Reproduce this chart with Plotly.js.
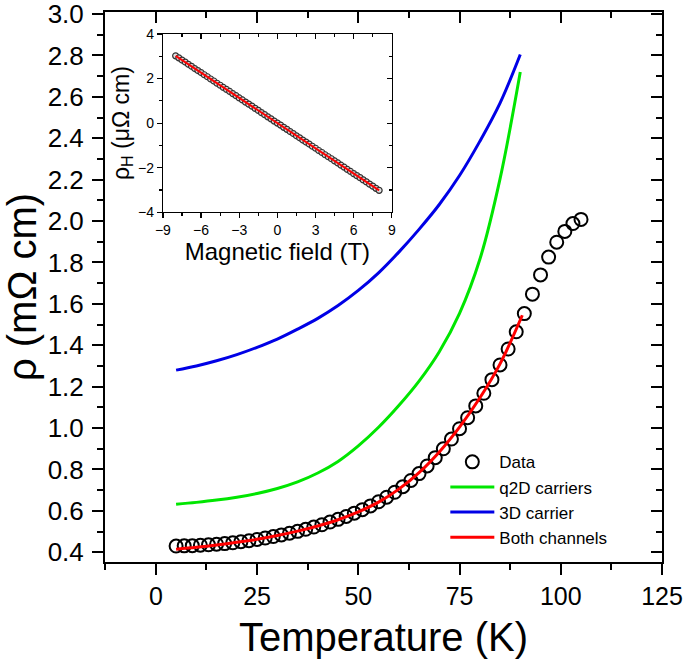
<!DOCTYPE html>
<html>
<head>
<meta charset="utf-8">
<script src="https://cdn.plot.ly/plotly-3.0.1.min.js"></script>
<style>html,body{margin:0;padding:0;background:#fff;}#chart{width:685px;height:669px;}</style>
</head>
<body>
<div id="chart"></div>
<script>
// Main panel: measured resistivity (open circles)
const tempData = [5,7,9,11,13,15,17,19,21,23,25,27,29,31,33,35,37,39,41,43,45,47,49,51,53,55,57,59,61,63,65,67,69,71,73,75,77,79,81,83,85,87,89,91,93,95,97,99,101,103,105];
const rhoData = [0.430,0.431,0.432,0.434,0.436,0.439,0.442,0.446,0.451,0.456,0.462,0.469,0.476,0.484,0.492,0.501,0.511,0.522,0.533,0.546,0.559,0.573,0.589,0.606,0.624,0.644,0.666,0.690,0.717,0.747,0.780,0.817,0.857,0.900,0.947,0.997,1.050,1.107,1.168,1.234,1.305,1.382,1.465,1.553,1.647,1.740,1.826,1.898,1.950,1.988,2.008];

// Model curves
const tQ2D = [5,10,15,20,25,30,35,40,45,50,55,60,65,70,75,80,85,90];
const rhoQ2D = [0.632,0.641,0.652,0.666,0.684,0.708,0.740,0.783,0.839,0.914,1.004,1.109,1.227,1.369,1.554,1.814,2.204,2.720];

const t3D = [5,10,15,20,25,30,35,40,45,50,55,60,65,70,75,80,85,90];
const rho3D = [1.280,1.300,1.325,1.355,1.390,1.430,1.478,1.530,1.592,1.665,1.750,1.850,1.960,2.080,2.220,2.385,2.570,2.805];

const tBoth = [5,10,15,20,25,30,35,40,45,50,55,60,65,70,75,80,85,90.5];
const rhoBoth = [0.415,0.424,0.435,0.448,0.463,0.481,0.502,0.527,0.557,0.595,0.642,0.705,0.785,0.885,1.005,1.145,1.310,1.545];

// Inset: Hall resistivity vs magnetic field
const fieldHall = [-8,-7.75,-7.5,-7.25,-7,-6.75,-6.5,-6.25,-6,-5.75,-5.5,-5.25,-5,-4.75,-4.5,-4.25,-4,-3.75,-3.5,-3.25,-3,-2.75,-2.5,-2.25,-2,-1.75,-1.5,-1.25,-1,-0.75,-0.5,-0.25,0,0.25,0.5,0.75,1,1.25,1.5,1.75,2,2.25,2.5,2.75,3,3.25,3.5,3.75,4,4.25,4.5,4.75,5,5.25,5.5,5.75,6,6.25,6.5,6.75,7,7.25,7.5,7.75,8];
const rhoHall = [3.02,2.93,2.83,2.74,2.64,2.55,2.45,2.36,2.27,2.17,2.08,1.98,1.89,1.79,1.70,1.60,1.51,1.42,1.32,1.23,1.13,1.04,0.94,0.85,0.76,0.66,0.57,0.47,0.38,0.28,0.19,0.09,0.00,-0.09,-0.19,-0.28,-0.38,-0.47,-0.57,-0.66,-0.76,-0.85,-0.94,-1.04,-1.13,-1.23,-1.32,-1.42,-1.51,-1.60,-1.70,-1.79,-1.89,-1.98,-2.08,-2.17,-2.27,-2.36,-2.45,-2.55,-2.64,-2.74,-2.83,-2.93,-3.02];
const fieldFit = [-8, 8];
const rhoFit = [3.02, -3.02];

const FONT = 'Arial, "Liberation Sans", sans-serif';

const traces = [
  {x: tempData, y: rhoData, type: 'scatter', mode: 'markers', name: 'Data',
   marker: {symbol: 'circle-open', size: 13, color: '#000', line: {width: 2, color: '#000'}}},
  {x: tQ2D, y: rhoQ2D, type: 'scatter', mode: 'lines', name: 'q2D carriers',
   line: {color: '#00e600', width: 3, shape: 'spline'}},
  {x: t3D, y: rho3D, type: 'scatter', mode: 'lines', name: '3D carrier',
   line: {color: '#0000e6', width: 3, shape: 'spline'}},
  // drawn on the mirrored (top/right) axes, which share the main ranges
  {x: tBoth, y: rhoBoth, xaxis: 'x3', yaxis: 'y3', type: 'scatter', mode: 'lines', name: 'Both channels',
   line: {color: '#ff0000', width: 3, shape: 'spline'}},
  {x: fieldHall, y: rhoHall, xaxis: 'x2', yaxis: 'y2', type: 'scatter', mode: 'markers', showlegend: false,
   marker: {symbol: 'circle', size: 6, color: '#e0e0e0', line: {width: 1.2, color: '#333'}}},
  {x: fieldFit, y: rhoFit, xaxis: 'x4', yaxis: 'y4', type: 'scatter', mode: 'lines', showlegend: false,
   line: {color: '#ff0000', width: 2}}
];

const mainX = [-12.56, 125];
const mainY = [0.353, 3.01];
const insetX = [-9, 9];
const insetY = [-4, 4];

function mainXAxis(extra) {
  return Object.assign({range: mainX, showgrid: false, zeroline: false,
    showline: true, linecolor: '#000', linewidth: 2,
    ticklen: 11, tickwidth: 2, tickcolor: '#000', tick0: 0, dtick: 25}, extra);
}
function mainYAxis(extra) {
  return Object.assign({range: mainY, showgrid: false, zeroline: false,
    showline: true, linecolor: '#000', linewidth: 2,
    ticklen: 11, tickwidth: 2, tickcolor: '#000', tick0: 0.4, dtick: 0.2}, extra);
}
function insetXAxis(extra) {
  return Object.assign({range: insetX, showgrid: false, zeroline: false,
    showline: true, linecolor: '#000', linewidth: 1.2,
    ticklen: 5, tickwidth: 1.2, tickcolor: '#000', tick0: -9, dtick: 3}, extra);
}
function insetYAxis(extra) {
  return Object.assign({range: insetY, showgrid: false, zeroline: false,
    showline: true, linecolor: '#000', linewidth: 1.2,
    ticklen: 5, tickwidth: 1.2, tickcolor: '#000', tick0: -4, dtick: 2}, extra);
}

const layout = {
  width: 685, height: 669,
  margin: {l: 105, r: 23, t: 12, b: 107},
  paper_bgcolor: '#fff', plot_bgcolor: '#fff',
  font: {family: FONT, color: '#000'},
  showlegend: true,
  legend: {x: 0.611, y: 0.214, xanchor: 'left', yanchor: 'top', bgcolor: 'rgba(0,0,0,0)',
           font: {size: 17, family: FONT}, itemwidth: 44, tracegroupgap: 0},
  xaxis: mainXAxis({domain: [0, 1], anchor: 'y', ticks: 'outside', tickfont: {size: 25, family: FONT},
          minor: {dtick: 12.5, tick0: 0, ticks: 'outside', ticklen: 6, tickwidth: 2, tickcolor: '#000'},
          title: {text: 'Temperature (K)', font: {size: 40, family: FONT}, standoff: 14}}),
  yaxis: mainYAxis({domain: [0, 1], anchor: 'x', ticks: 'outside', tickformat: '.1f',
          tickfont: {size: 26, family: FONT}, ticklabelstandoff: 3, ticklabeloverflow: 'allow',
          minor: {dtick: 0.1, tick0: 0.4, ticks: 'outside', ticklen: 6, tickwidth: 2, tickcolor: '#000'},
          title: {text: 'ρ (mΩ cm)', font: {size: 40, family: FONT}, standoff: 4}}),
  xaxis3: mainXAxis({overlaying: 'x', side: 'top', anchor: 'y3', ticks: 'inside', showticklabels: false,
          minor: {dtick: 12.5, tick0: 0, ticks: 'inside', ticklen: 6, tickwidth: 2, tickcolor: '#000'}}),
  yaxis3: mainYAxis({overlaying: 'y', side: 'right', anchor: 'x3', ticks: 'inside', showticklabels: false,
          minor: {dtick: 0.1, tick0: 0.4, ticks: 'inside', ticklen: 6, tickwidth: 2, tickcolor: '#000'}}),
  xaxis2: insetXAxis({domain: [0.104, 0.515], anchor: 'y2', ticks: 'outside', tickfont: {size: 14, family: FONT},
          minor: {dtick: 1.5, tick0: -9, ticks: 'outside', ticklen: 3, tickwidth: 1.2, tickcolor: '#000'},
          title: {text: 'Magnetic field (T)', font: {size: 24, family: FONT}, standoff: 3}}),
  yaxis2: insetYAxis({domain: [0.636, 0.960], anchor: 'x2', ticks: 'outside', tickfont: {size: 14, family: FONT},
          minor: {dtick: 1, tick0: -4, ticks: 'outside', ticklen: 3, tickwidth: 1.2, tickcolor: '#000'},
          title: {text: 'ρ<sub>H</sub> (μΩ cm)', font: {size: 23, family: FONT}, standoff: 2}}),
  xaxis4: insetXAxis({overlaying: 'x2', side: 'top', anchor: 'y4', ticks: 'inside', showticklabels: false,
          minor: {dtick: 1.5, tick0: -9, ticks: 'inside', ticklen: 3, tickwidth: 1.2, tickcolor: '#000'}}),
  yaxis4: insetYAxis({overlaying: 'y2', side: 'right', anchor: 'x4', ticks: 'inside', showticklabels: false,
          minor: {dtick: 1, tick0: -4, ticks: 'inside', ticklen: 3, tickwidth: 1.2, tickcolor: '#000'}})
};

Plotly.newPlot('chart', traces, layout, {displayModeBar: false, staticPlot: true});
</script>
</body>
</html>
